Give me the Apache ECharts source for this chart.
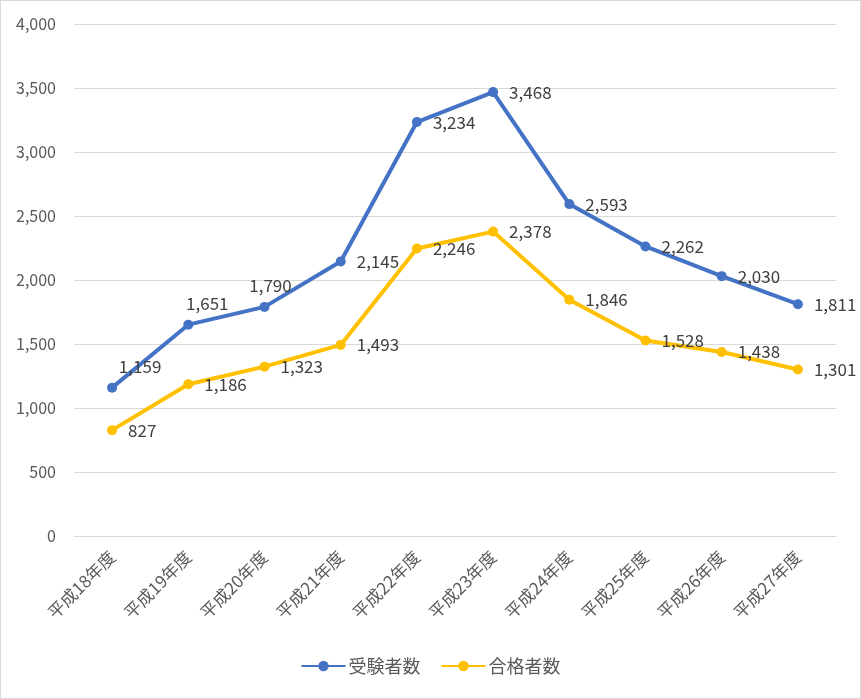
<!DOCTYPE html>
<html>
<head>
<meta charset="utf-8">
<title>受験者数・合格者数</title>
<script src="https://cdn.jsdelivr.net/npm/echarts@6/dist/echarts.min.js"></script>
<style type="text/css">
html,body{margin:0;padding:0;background:#fff;}
#main{
  position:absolute;left:0;top:0;
  width:859px;height:697px;
  border:1px solid #d9d9d9;
}
</style>
</head>
<body>
<div id="main"></div>
<script type="text/javascript">
var years = ["平成18年度","平成19年度","平成20年度","平成21年度","平成22年度","平成23年度","平成24年度","平成25年度","平成26年度","平成27年度"];
var examinees = [1159,1651,1790,2145,3234,3468,2593,2262,2030,1811];
var passers = [827,1186,1323,1493,2246,2378,1846,1528,1438,1301];

// 受験者数の最初の3点はラベルを上に置く（x方向のずらし量）
var blueTopShift = [28,19,6];

function fmt(v){ return v.toLocaleString('en-US'); }

var myChart = echarts.init(document.getElementById('main'));

var blueData = examinees.map(function(v,i){
  var item = {value:v};
  if(i < blueTopShift.length){
    item.label = {position:'top', distance:5, offset:[blueTopShift[i],-3]};
  }
  return item;
});

var labelStyle = {show:true, position:'right', distance:11, fontSize:17, color:'#404040',
  formatter:function(p){return fmt(p.value);}};

var option = {
  animation:false,
  textStyle:{fontFamily:'"Noto Sans CJK JP", sans-serif'},
  grid:{left:73, right:24, top:23, bottom:162},
  legend:{
    bottom:18,
    left:'center',
    itemWidth:44,
    itemHeight:13,
    itemGap:20,
    textStyle:{fontSize:18, color:'#595959', padding:[0,0,0,-2]},
    data:['受験者数','合格者数']
  },
  xAxis:{
    type:'category',
    data:years,
    boundaryGap:true,
    axisLine:{lineStyle:{color:'#d9d9d9', width:1}},
    axisTick:{show:false},
    axisLabel:{rotate:45, color:'#595959', fontSize:17, margin:18, interval:0}
  },
  yAxis:{
    type:'value',
    min:0, max:4000, interval:500,
    axisLine:{show:false},
    axisTick:{show:false},
    splitLine:{lineStyle:{color:'#d9d9d9', width:1}},
    axisLabel:{color:'#595959', fontSize:16, margin:18, formatter:function(v){return fmt(v);}}
  },
  series:[
    {
      name:'受験者数',
      type:'line',
      data:blueData,
      color:'#4472C4',
      symbol:'circle',
      symbolSize:10,
      lineStyle:{width:4},
      label:labelStyle
    },
    {
      name:'合格者数',
      type:'line',
      data:passers,
      color:'#FFC000',
      symbol:'circle',
      symbolSize:10,
      lineStyle:{width:4},
      label:labelStyle
    }
  ]
};
myChart.setOption(option);
</script>
</body>
</html>
